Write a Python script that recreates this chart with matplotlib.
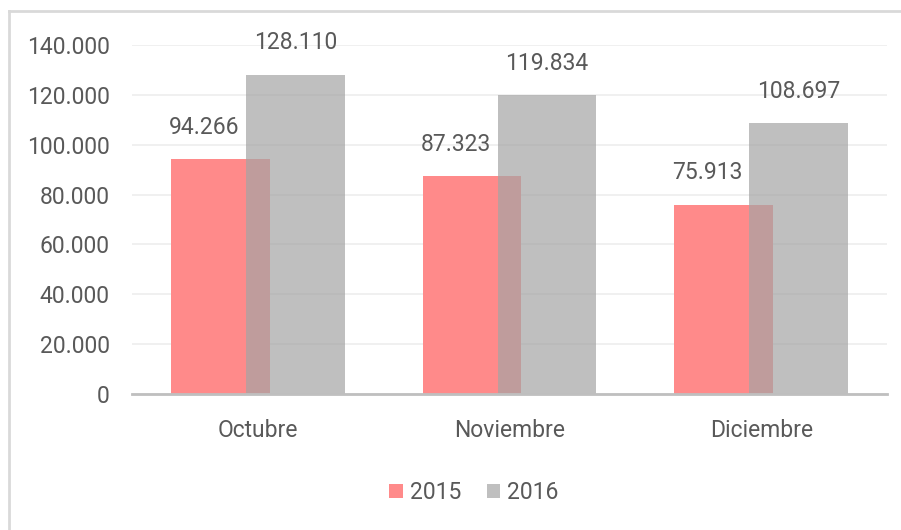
import numpy as np
import matplotlib
matplotlib.use("Agg")
import matplotlib.pyplot as plt
from matplotlib.lines import Line2D

# data
months = ["Octubre", "Noviembre", "Diciembre"]
values_2015 = [94266, 87323, 75913]
values_2016 = [128110, 119834, 108697]
labels_2015 = ["94.266", "87.323", "75.913"]
labels_2016 = ["128.110", "119.834", "108.697"]
yticks = [0, 20000, 40000, 60000, 80000, 100000, 120000, 140000]
ytick_labels = ["0", "20.000", "40.000", "60.000", "80.000", "100.000", "120.000", "140.000"]

plt.rcParams["font.family"] = ["Roboto", "DejaVu Sans"]
text_color = "#595959"
fs = 16.5

fig = plt.figure(figsize=(9.01, 5.30), dpi=100)
ax = fig.add_axes([0.1465, 0.2566, 0.838, 0.6585])

x = np.arange(len(months))
width = 0.393
shift = 0.149

b1 = ax.bar(x - shift, values_2015, width, color="#ff8a8a", label="2015", zorder=2)
b2 = ax.bar(x + shift, values_2016, width, color="#a4a4a4", alpha=0.7, label="2016", zorder=3)

# 2015 labels sit a little left of their bar so they clear the grey bar
for xi, v, lab in zip(x - shift, values_2015, labels_2015):
    ax.annotate(lab, (xi - 0.065, v), xytext=(0, 23), textcoords="offset points",
                ha="center", va="center", fontsize=fs, color=text_color)
for xi, v, lab in zip(x + shift, values_2016, labels_2016):
    ax.annotate(lab, (xi, v), xytext=(0, 23), textcoords="offset points",
                ha="center", va="center", fontsize=fs, color=text_color)

ax.set_xlim(-0.5, 2.5)
ax.set_ylim(0, 140000)
ax.set_yticks(yticks)
ax.set_yticklabels(ytick_labels)
ax.set_xticks(x)
ax.set_xticklabels(months)
ax.tick_params(axis="y", length=0, pad=16, labelsize=fs, labelcolor=text_color)
ax.tick_params(axis="x", length=0, pad=18, labelsize=fs, labelcolor=text_color)

ax.grid(axis="y", color="#ededed", linewidth=1.2, zorder=0)
ax.set_axisbelow(True)
for side in ["top", "right", "left"]:
    ax.spines[side].set_visible(False)
ax.spines["bottom"].set_color("#bfbfbf")
ax.spines["bottom"].set_linewidth(2)
ax.spines["bottom"].set_zorder(4)

leg = fig.legend(handles=[b1, b2], loc="center", bbox_to_anchor=(0.526, 0.071), ncol=2,
                 frameon=False, fontsize=fs, handlelength=0.6, handleheight=0.6,
                 handletextpad=0.3, columnspacing=1.1)
for t in leg.get_texts():
    t.set_color(text_color)

# outer chart frame (top and left edges visible in the crop)
fig.add_artist(Line2D([9 / 901, 1.0], [1 - 11 / 530, 1 - 11 / 530], color="#d9d9d9",
                      linewidth=2, transform=fig.transFigure))
fig.add_artist(Line2D([9 / 901, 9 / 901], [0.0, 1 - 11 / 530], color="#d9d9d9",
                      linewidth=2, transform=fig.transFigure))

fig.savefig("out.png", dpi=100)
